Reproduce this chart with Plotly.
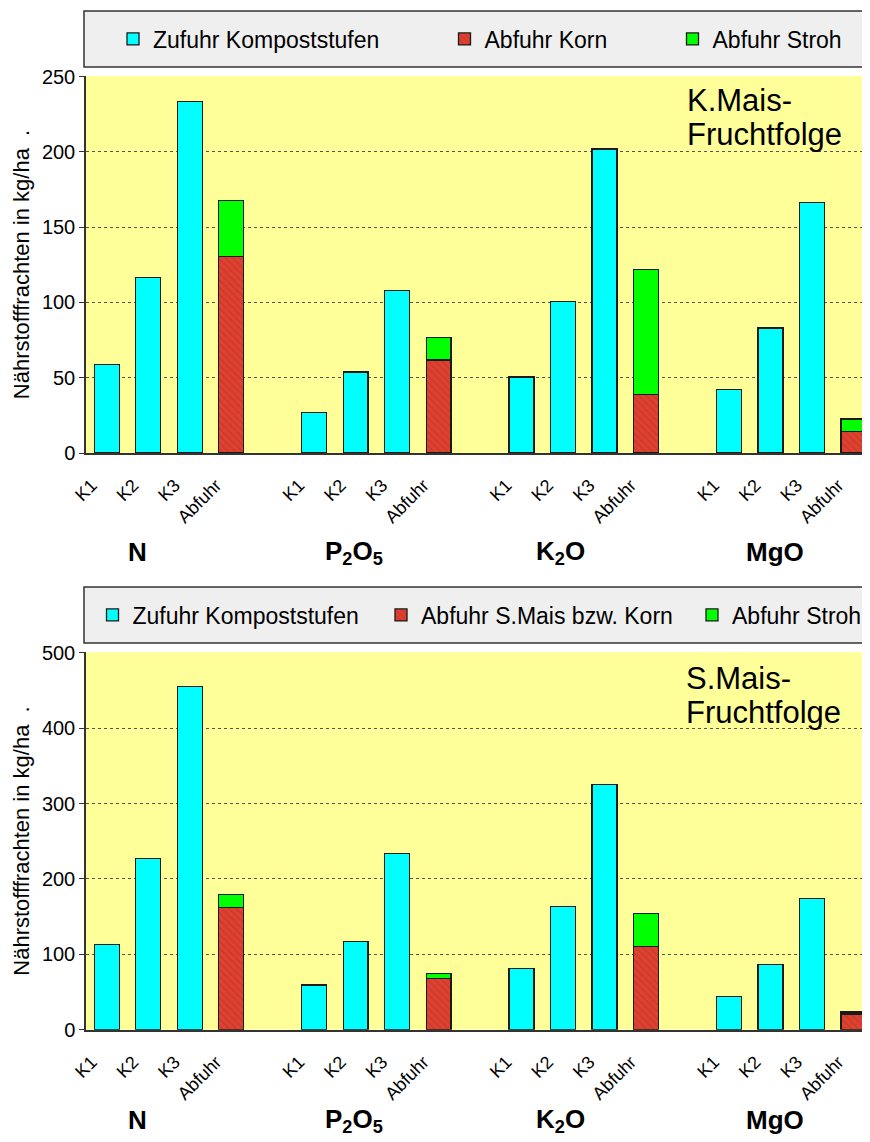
import plotly.graph_objects as go

W, H = 870, 1142
OFF = 8  # default page margin around the exported figure

# ---------------- data ----------------
nutrients = ["N", "P2O5", "K2O", "MgO"]
nutrient_labels = ["N", "P<sub>2</sub>O<sub>5</sub>", "K<sub>2</sub>O", "MgO"]
levels = ["K1", "K2", "K3"]
abfuhr_name = "Abfuhr"

# K.Mais-Fruchtfolge (top chart)
top_zufuhr_N = [58.7, 116.8, 233.6]
top_zufuhr_P2O5 = [27.0, 53.8, 107.8]
top_zufuhr_K2O = [50.4, 100.7, 202.0]
top_zufuhr_MgO = [42.1, 83.0, 166.2]
top_korn = [130.5, 61.7, 38.8, 14.4]
top_stroh = [37.2, 15.1, 83.3, 8.2]

# S.Mais-Fruchtfolge (bottom chart)
bot_zufuhr_N = [113.5, 227.0, 455.4]
bot_zufuhr_P2O5 = [59.2, 117.5, 233.7]
bot_zufuhr_K2O = [81.3, 163.4, 325.5]
bot_zufuhr_MgO = [44.2, 86.6, 174.5]
bot_korn = [162.1, 67.6, 110.4, 20.8]
bot_stroh = [17.2, 7.0, 44.2, 2.6]

top_legend_names = ["Zufuhr Kompoststufen", "Abfuhr Korn", "Abfuhr Stroh"]
bot_legend_names = ["Zufuhr Kompoststufen", "Abfuhr S.Mais bzw. Korn", "Abfuhr Stroh"]
top_title = ["K.Mais-", "Fruchtfolge"]
bot_title = ["S.Mais-", "Fruchtfolge"]
y_title = "Nährstofffrachten in kg/ha  ."

# ---------------- categories ----------------
categories, tick_vals, tick_text = [], [], []
for i, n in enumerate(nutrients):
    for l in levels + [abfuhr_name]:
        categories.append(f"{n}-{l}")
        tick_vals.append(f"{n}-{l}")
        tick_text.append(l)
    if i < len(nutrients) - 1:
        categories.append(" " * (i + 1))

x_levels = [f"{n}-{l}" for n in nutrients for l in levels]
x_abfuhr = [f"{n}-{abfuhr_name}" for n in nutrients]

FONT = "Liberation Sans, Arial, Helvetica, sans-serif"
CYAN = "#00ffff"
GREEN = "#00ff00"
RED = "#e2402f"
EDGE = "#1a1a1a"

fig = go.Figure()


def add_chart(zufuhr, korn, stroh, names, xa, ya, legs):
    yvals = [v for grp in zufuhr for v in grp]
    fig.add_trace(go.Bar(x=x_levels, y=yvals, name=names[0], xaxis=xa, yaxis=ya,
                         marker=dict(color=CYAN, line=dict(color=EDGE, width=1.3)),
                         width=0.6, legend=legs[0]))
    fig.add_trace(go.Bar(x=x_abfuhr, y=korn, name=names[1], xaxis=xa, yaxis=ya,
                         marker=dict(color=RED, line=dict(color=EDGE, width=1.3),
                                     pattern=dict(shape="\\", fgcolor="rgba(70,45,40,0.4)",
                                                  size=5, solidity=0.3, fillmode="overlay")),
                         width=0.6, legend=legs[1]))
    fig.add_trace(go.Bar(x=x_abfuhr, y=stroh, name=names[2], xaxis=xa, yaxis=ya,
                         marker=dict(color=GREEN, line=dict(color=EDGE, width=1.3)),
                         width=0.6, legend=legs[2]))


add_chart([top_zufuhr_N, top_zufuhr_P2O5, top_zufuhr_K2O, top_zufuhr_MgO],
          top_korn, top_stroh, top_legend_names, "x", "y", ["legend2", "legend3", "legend4"])
add_chart([bot_zufuhr_N, bot_zufuhr_P2O5, bot_zufuhr_K2O, bot_zufuhr_MgO],
          bot_korn, bot_stroh, bot_legend_names, "x2", "y2", ["legend5", "legend6", "legend7"])


def px(x):
    return (x - OFF) / W


def py(y):
    return 1 - (y - OFF) / H


x_dom = [px(86), 1.0]
top_dom = [py(453), py(76)]
bot_dom = [py(1029.7), py(652.3)]
x_right = 18.4 + OFF / 41.48

xaxis_common = dict(
    type="category", categoryorder="array", categoryarray=categories,
    tickmode="array", tickvals=tick_vals, ticktext=tick_text,
    range=[-0.5, x_right], tickangle=-45, ticks="outside", ticklen=13,
    tickcolor="rgba(0,0,0,0)", ticklabelshift=-15, automargin=False,
    showline=True, linecolor="#333333", linewidth=1.5,
    showgrid=False, zeroline=False, tickfont=dict(size=18, color="black", family=FONT),
    fixedrange=True,
)
yaxis_common = dict(
    ticks="outside", ticklen=5, tickcolor="#333333", showline=True, linecolor="#333333",
    linewidth=1.5, showgrid=True, gridcolor="#555555", griddash="dot", gridwidth=1,
    zeroline=False, tickfont=dict(size=20, color="black", family=FONT), automargin=False,
    title=dict(text=y_title, font=dict(size=22, color="black", family=FONT), standoff=6),
)

fig.update_layout(
    template="none",
    width=W, height=H, margin=dict(l=0, r=0, t=0, b=0, autoexpand=False),
    paper_bgcolor="white", plot_bgcolor="#ffff99",
    barmode="stack", bargap=0.4, showlegend=True,
    font=dict(family=FONT, color="black"),
    xaxis=dict(domain=x_dom, anchor="y", **xaxis_common),
    yaxis=dict(domain=top_dom, anchor="x", range=[0, 250.4], tick0=0, dtick=50, **yaxis_common),
    xaxis2=dict(domain=x_dom, anchor="y2", **xaxis_common),
    yaxis2=dict(domain=bot_dom, anchor="x2", range=[0, 500.8], tick0=0, dtick=100, **yaxis_common),
)

# legend boxes
for y0, y1 in [(11, 67), (587, 643)]:
    fig.add_shape(type="rect", xref="paper", yref="paper", x0=px(84), x1=px(890),
                  y0=py(y1), y1=py(y0), line=dict(color="#333333", width=1.5),
                  fillcolor="#efefef", layer="below")

leg_common = dict(orientation="h", xanchor="left", yanchor="middle",
                  bgcolor="rgba(0,0,0,0)", borderwidth=0,
                  font=dict(size=23, color="black", family=FONT))
top_leg_x = [113, 444.5, 672.5]
bot_leg_x = [92.5, 381, 692]
legs = {}
for i, xx in enumerate(top_leg_x):
    legs[f"legend{i + 2}"] = dict(x=px(xx), y=py(39), **leg_common)
for i, xx in enumerate(bot_leg_x):
    legs[f"legend{i + 5}"] = dict(x=px(xx), y=py(615), **leg_common)
fig.update_layout(**legs)

# group labels
group_x = [0.75, 5.95, 10.95, 16.1]
for xa, ylab in [("x", 552), ("x2", 1120)]:
    for gx, lab in zip(group_x, nutrient_labels):
        fig.add_annotation(x=gx, xref=xa, y=py(ylab), yref="paper", text=f"<b>{lab}</b>",
                           showarrow=False, font=dict(size=26, color="black", family=FONT),
                           xanchor="center", yanchor="middle")

# chart titles inside plot areas
for lines, x0, ys in [(top_title, 685, [101, 135]), (bot_title, 684, [678, 712])]:
    for txt, yy in zip(lines, ys):
        fig.add_annotation(x=px(x0), y=py(yy), xref="paper", yref="paper", text=txt,
                           showarrow=False, xanchor="left", yanchor="middle",
                           font=dict(size=31, color="black", family=FONT))

fig.write_html("out.html")
